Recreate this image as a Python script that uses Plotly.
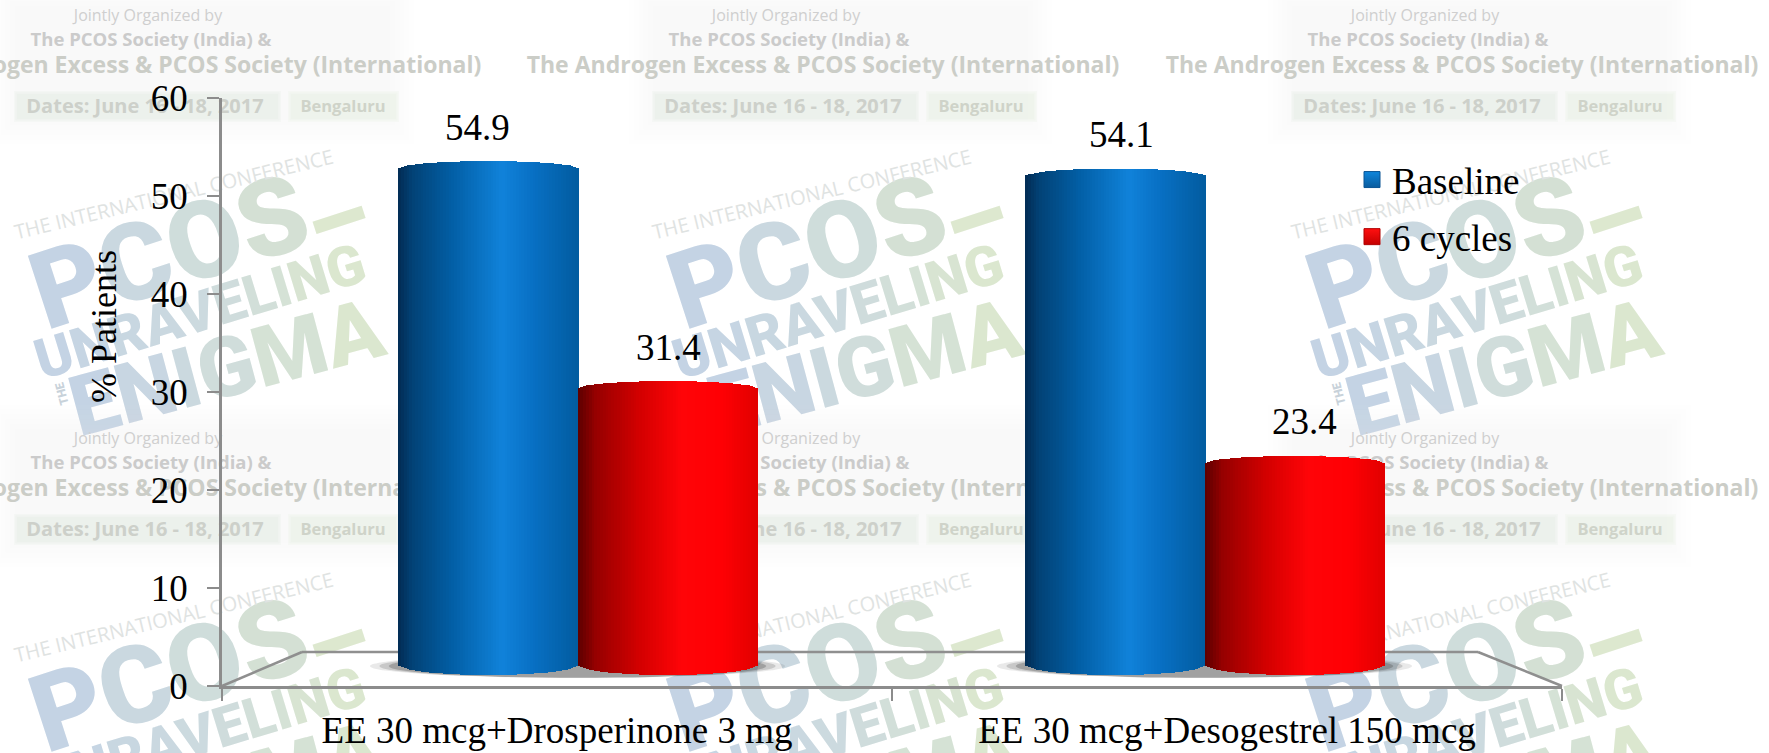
import plotly.graph_objects as go

# Chart data
categories = ["EE 30 mcg+Drosperinone 3 mg", "EE 30 mcg+Desogestrel 150 mcg"]
baseline = [54.9, 54.1]
six_cycles = [31.4, 23.4]
y_ticks = [0, 10, 20, 30, 40, 50, 60]

W, H = 1769, 753
L, R, T, B = 222, 1562, 98, 686
SERIF = "Liberation Serif"
SANS = "Open Sans"
HEAVY = "Roboto"


def px(x):
    return (x - L) / (R - L)


def py(y):
    return (B - y) / (B - T)


def blend(stops, t):
    for (t0, c0), (t1, c1) in zip(stops, stops[1:]):
        if t <= t1:
            k = (t - t0) / (t1 - t0)
            return "rgb(%d,%d,%d)" % tuple(round(a + (b - a) * k) for a, b in zip(c0, c1))
    return "rgb(%d,%d,%d)" % stops[-1][1]


BLUE_STOPS = [(0, (2, 44, 84)), (0.08, (2, 66, 118)), (0.3, (2, 94, 165)), (0.58, (16, 130, 218)),
              (0.75, (8, 112, 196)), (1, (2, 92, 160))]
RED_STOPS = [(0, (90, 0, 0)), (0.1, (150, 0, 0)), (0.35, (212, 0, 0)), (0.58, (255, 4, 8)),
             (0.8, (255, 0, 4)), (1, (226, 0, 0))]

shapes = []
annotations = []


def label_shape(x, y, text, size, color, family=SANS, angle=0, weight=None):
    font = dict(family=family, size=size, color=color)
    if weight:
        font["weight"] = weight
    shapes.append(dict(
        type="rect", xref="paper", yref="paper", layer="below",
        x0=px(x - 1), x1=px(x + 1), y0=py(y + 1), y1=py(y - 1),
        line=dict(width=0), fillcolor="rgba(0,0,0,0)",
        label=dict(text=text, textposition="middle center", textangle=angle, font=font),
    ))


def soft_rect(x0, y0, x1, y1, color):
    shapes.append(dict(type="rect", xref="paper", yref="paper", layer="below",
                       x0=px(x0), x1=px(x1), y0=py(y1), y1=py(y0),
                       line=dict(width=0), fillcolor=color))


def feathered(x0, y0, x1, y1, rgb, alpha, steps=6, reach=24):
    # stacked translucent rectangles give the backdrop a soft edge
    for k in range(steps):
        d = reach * (steps - 1 - k) / max(steps - 1, 1)
        soft_rect(x0 - d, y0 - d, x1 + d, y1 + d, "rgba(%d,%d,%d,%.3f)" % (*rgb, alpha / steps))


def colored(text, palette):
    spans = []
    n = max(len(text) - 1, 1)
    for i, ch in enumerate(text):
        spans.append('<span style="color:%s">%s</span>' % (blend(palette, i / n), ch))
    return "".join(spans)


LOGO = [(0, (196, 211, 228)), (0.5, (205, 219, 222)), (1, (219, 231, 207))]


def conference_tile(cx, dy):
    # soft tinted backdrop
    feathered(cx - 170, dy + 6, cx + 205, dy + 120, (232, 240, 224), 0.28)
    feathered(cx - 130, dy + 155, cx + 165, dy + 375, (240, 244, 240), 0.2)
    feathered(cx - 168, dy + 94, cx + 93, dy + 119, (222, 230, 220), 0.5, steps=3, reach=3)
    feathered(cx + 106, dy + 94, cx + 211, dy + 119, (226, 236, 220), 0.5, steps=3, reach=3)
    # header lines
    label_shape(cx - 37, dy + 16, "Jointly Organized by", 16, "#cfcfcf")
    label_shape(cx - 34, dy + 40, "<b>The PCOS Society (India) &amp;</b>", 18.5, "#cbcbcb")
    label_shape(cx, dy + 66, "<b>The Androgen Excess &amp; PCOS Society (International)</b>", 23, "#cbcdc7")
    label_shape(cx - 40, dy + 106, "<b>Dates: June 16 - 18, 2017</b>", 20, "#cdd0ca")
    label_shape(cx + 158, dy + 107, "<b>Bengaluru</b>", 16.5, "#cfd3c9")
    # angled logo
    label_shape(cx - 18, dy + 244, colored("PCOS", LOGO[:2] + [(1, (212, 224, 212))]), 108, "#c8d5e0",
                family=HEAVY, angle=-18, weight=900)
    label_shape(cx - 11, dy + 195, "THE INTERNATIONAL CONFERENCE", 20, "#dfe3e2", angle=-13.5)
    label_shape(cx + 150, dy + 214, "–", 100, "#dde8cf", family=HEAVY, angle=-18, weight=900)
    label_shape(cx + 14, dy + 308, colored("UNRAVELING", LOGO), 56, "#c8d5e0", family=HEAVY, angle=-17, weight=900)
    label_shape(cx + 40, dy + 362, colored("ENIGMA", LOGO), 84, "#c8d5e0", family=HEAVY, angle=-15, weight=900)
    label_shape(cx - 124, dy + 394, "THE", 12, "#c8d2da", family=HEAVY, angle=-105, weight=900)


for row_dy in (0, 423):
    for col_x in (185, 823, 1462):
        conference_tile(col_x, row_dy)

# Floor of the 3D box
FLOOR = "#8f8f8f"
for x0, y0, x1, y1 in [(L, B, 302, 652), (302, 652, 1478, 652), (1478, 652, R, B)]:
    shapes.append(dict(type="line", xref="paper", yref="paper", layer="below",
                       x0=px(x0), x1=px(x1), y0=py(y0), y1=py(y1),
                       line=dict(color=FLOOR, width=2.5)))

# Bars are scaled on their own overlay axes because the 3D box foreshortens them
PER_CAT = 627.0
x2_range = [(L - 577.5) / PER_CAT, (R - 577.5) / PER_CAT]
UNIT = 9.36
ZERO_Y = 675.0
y2_range = [-(B - ZERO_Y) / UNIT, (ZERO_Y - T) / UNIT]

BAR_W = 0.286
N = 64
CAP = 0.85
FOOT = 1.15

traces = []


def cylinder(values, left, stops):
    slice_w = BAR_W / N
    for i in range(N):
        u = (i + 0.5) / N
        r = 2 * u - 1
        bulge = max(1 - r * r, 0) ** 0.5
        tops = [v - CAP * (1 - bulge) for v in values]
        foot = FOOT * (1 - bulge)
        traces.append(go.Bar(
            x=categories, y=[t - foot for t in tops], base=[foot] * len(values),
            xaxis="x2", yaxis="y2", width=slice_w * 1.5, offset=left + i * slice_w,
            marker=dict(color=blend(stops, u), line=dict(width=0)),
            showlegend=False, hoverinfo="skip",
        ))


# Contact shadows on the floor, drawn under the bars
for i in range(len(categories)):
    for grow, alpha in ((0.045, 0.12), (0.03, 0.2), (0.015, 0.3)):
        shapes.append(dict(type="circle", xref="x2", yref="y2", layer="below",
                           x0=i - BAR_W - grow, x1=i + BAR_W + grow, y0=-0.3, y1=2.2,
                           line=dict(width=0), fillcolor="rgba(70,70,70,%.2f)" % alpha))

cylinder(baseline, -BAR_W, BLUE_STOPS)
cylinder(six_cycles, 0, RED_STOPS)

# Legend entries and the category axis share these empty traces
traces.append(go.Scatter(
    x=categories, y=[None, None], mode="markers", name="Baseline", legendgroup="a",
    marker=dict(symbol="square", size=16, color="#0f86dc",
                gradient=dict(type="vertical", color="#0a5c9e"),
                line=dict(color="#0a5494", width=1))))
traces.append(go.Scatter(
    x=categories, y=[None, None], mode="markers", name="6 cycles", legendgroup="b",
    marker=dict(symbol="square", size=16, color="#ff1010",
                gradient=dict(type="vertical", color="#c40000"),
                line=dict(color="#b00000", width=1))))

# Value labels
label_shift = {0: (-10, 1), 1: (7, 10)}
for i in range(len(categories)):
    s_base, s_six = label_shift[i]
    for v, off, shift in ((baseline[i], -BAR_W / 2, s_base), (six_cycles[i], BAR_W / 2, s_six)):
        annotations.append(dict(
            x=i + off, y=v, xref="x2", yref="y2", text=f"{v}", showarrow=False,
            xshift=shift, yshift=34, yanchor="middle",
            font=dict(family=SERIF, size=37, color="black")))

annotations.append(dict(
    x=px(82), y=py(327), xref="paper", yref="paper", text="% Patients", showarrow=False,
    textangle=-90, font=dict(family=SERIF, size=36, color="black")))

AXIS_COLOR = "#8c8c8c"
fig = go.Figure(traces)
fig.update_layout(
    width=W, height=H, margin=dict(l=L, r=W - R, t=T, b=H - B, autoexpand=False),
    paper_bgcolor="white", plot_bgcolor="rgba(0,0,0,0)",
    barmode="overlay", bargap=0,
    font=dict(family=SERIF, color="black"),
    shapes=shapes, annotations=annotations,
    legend=dict(x=px(1352), y=py(149), xanchor="left", yanchor="top", bgcolor="rgba(0,0,0,0)",
                font=dict(family=SERIF, size=37), tracegroupgap=6, itemwidth=30),
    xaxis=dict(type="category", categoryorder="array", categoryarray=categories,
               range=[-0.5, 1.5], tickson="boundaries", ticks="outside", ticklen=12, tickwidth=2,
               tickcolor=AXIS_COLOR, showline=True, linecolor=AXIS_COLOR, linewidth=2.5,
               showgrid=False, zeroline=False, tickfont=dict(family=SERIF, size=37),
               tickangle=0, ticklabelstandoff=10, fixedrange=True),
    yaxis=dict(range=[0, 60], tickvals=y_ticks, ticks="outside", ticklen=12, tickwidth=2,
               tickcolor=AXIS_COLOR, showline=True, linecolor=AXIS_COLOR, linewidth=2.5,
               showgrid=False, zeroline=False, tickfont=dict(family=SERIF, size=37),
               ticklabelstandoff=12, fixedrange=True),
    xaxis2=dict(type="category", categoryorder="array", categoryarray=categories,
                overlaying="x", range=x2_range, visible=False, fixedrange=True),
    yaxis2=dict(overlaying="y", range=y2_range, visible=False, fixedrange=True),
)
fig.write_html("out.html")
